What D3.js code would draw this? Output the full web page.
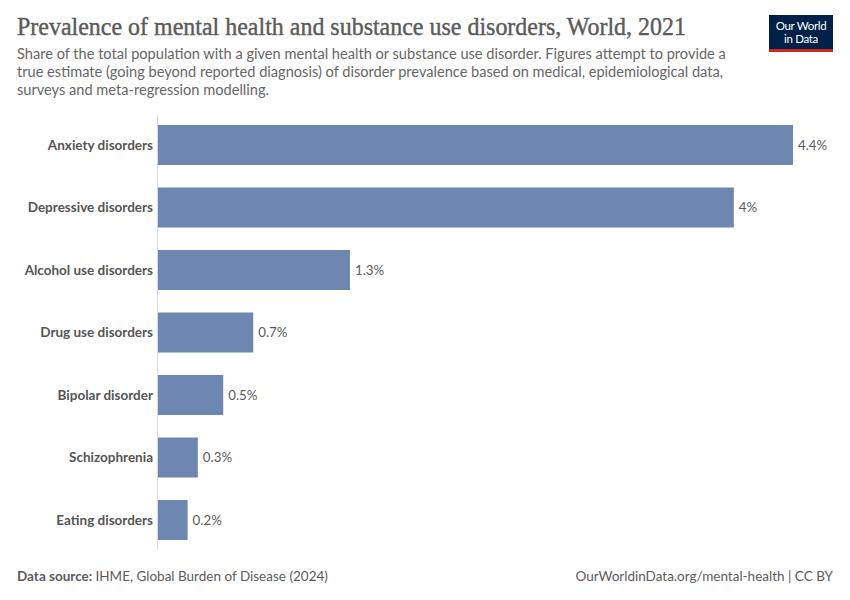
<!DOCTYPE html>
<html><head><meta charset="utf-8">
<script src="https://cdn.jsdelivr.net/npm/d3@7"></script>
<style>body{margin:0;background:#fff}svg{display:block}</style>
</head><body>
<script>
const categories = ["Anxiety disorders","Depressive disorders","Alcohol use disorders","Drug use disorders","Bipolar disorder","Schizophrenia","Eating disorders"];
const values = [4.40, 3.99, 1.33, 0.66, 0.452, 0.276, 0.205];
const subtitleLines = [
  "Share of the total population with a given mental health or substance use disorder. Figures attempt to provide a",
  "true estimate (going beyond reported diagnosis) of disorder prevalence based on medical, epidemiological data,",
  "surveys and meta-regression modelling."
];

const W = 850, H = 600;
const svg = d3.select("body").append("svg").attr("width", W).attr("height", H);
svg.append("rect").attr("width", W).attr("height", H).attr("fill", "#fff");

svg.append("text").attr("x", 17).attr("y", 35)
  .attr("font-family", "'Liberation Serif', serif").attr("font-size", 24.5)
  .attr("textLength", 669).attr("lengthAdjust", "spacingAndGlyphs")
  .attr("fill", "#5b5b5b").attr("stroke", "#5b5b5b").attr("stroke-width", 0.4)
  .text("Prevalence of mental health and substance use disorders, World, 2021");

svg.append("g").selectAll("text").data(subtitleLines).join("text")
  .attr("x", 17).attr("y", (d, i) => 59 + i * 18)
  .attr("font-family", "Lato, sans-serif").attr("font-size", 14.6)
  .attr("fill", "#666").text(d => d);

// logo
const logo = svg.append("g");
logo.append("rect").attr("x", 769).attr("y", 15).attr("width", 64).attr("height", 36).attr("fill", "#002147");
logo.append("rect").attr("x", 769).attr("y", 49).attr("width", 64).attr("height", 3).attr("fill", "#ce261e");
logo.append("text").attr("x", 801).attr("y", 30).attr("text-anchor", "middle")
  .attr("font-family", "Lato, sans-serif").attr("font-size", 11.5).attr("fill", "#fff").attr("letter-spacing", -0.3).text("Our World");
logo.append("text").attr("x", 801).attr("y", 43).attr("text-anchor", "middle")
  .attr("font-family", "Lato, sans-serif").attr("font-size", 11.5).attr("fill", "#fff").attr("letter-spacing", -0.3).text("in Data");

const x0 = 158;
const x = d3.scaleLinear().domain([0, 4.40]).range([x0, 793]);
const y = d3.scaleBand().domain(categories).range([113.75, 551.25]).paddingInner(0.36).paddingOuter(0.18);

svg.append("line").attr("x1", x0 - 0.5).attr("x2", x0 - 0.5).attr("y1", 115).attr("y2", 550)
  .attr("stroke", "#dadada").attr("stroke-width", 1);

const fmt = v => d3.format(".1~f")(v) + "%";
const g = svg.append("g");
g.selectAll("rect").data(categories).join("rect")
  .attr("x", x(0)).attr("y", d => y(d))
  .attr("width", (d, i) => x(values[i]) - x(0)).attr("height", y.bandwidth())
  .attr("fill", "#6d87b0");

g.selectAll("text.val").data(categories).join("text").attr("class", "val")
  .attr("x", (d, i) => x(values[i]) + 5).attr("y", d => y(d) + y.bandwidth() / 2)
  .attr("dy", "0.35em").attr("font-family", "Lato, sans-serif").attr("font-size", 13.3)
  .attr("fill", "#5b5b5b").text((d, i) => fmt(values[i]));

g.selectAll("text.cat").data(categories).join("text").attr("class", "cat")
  .attr("x", 153).attr("y", d => y(d) + y.bandwidth() / 2)
  .attr("dy", "0.35em").attr("text-anchor", "end")
  .attr("font-family", "Lato, sans-serif").attr("font-size", 13.5).attr("font-weight", "bold")
  .attr("fill", "#555").text(d => d);

const foot = svg.append("text").attr("x", 17).attr("y", 581)
  .attr("font-family", "Lato, sans-serif").attr("font-size", 13.5).attr("fill", "#5b5b5b");
foot.append("tspan").attr("font-weight", "bold").text("Data source: ");
foot.append("tspan").text("IHME, Global Burden of Disease (2024)");

svg.append("text").attr("x", 833).attr("y", 581).attr("text-anchor", "end")
  .attr("font-family", "Lato, sans-serif").attr("font-size", 13.5).attr("fill", "#5b5b5b")
  .text("OurWorldinData.org/mental-health | CC BY");
</script>
</body></html>
